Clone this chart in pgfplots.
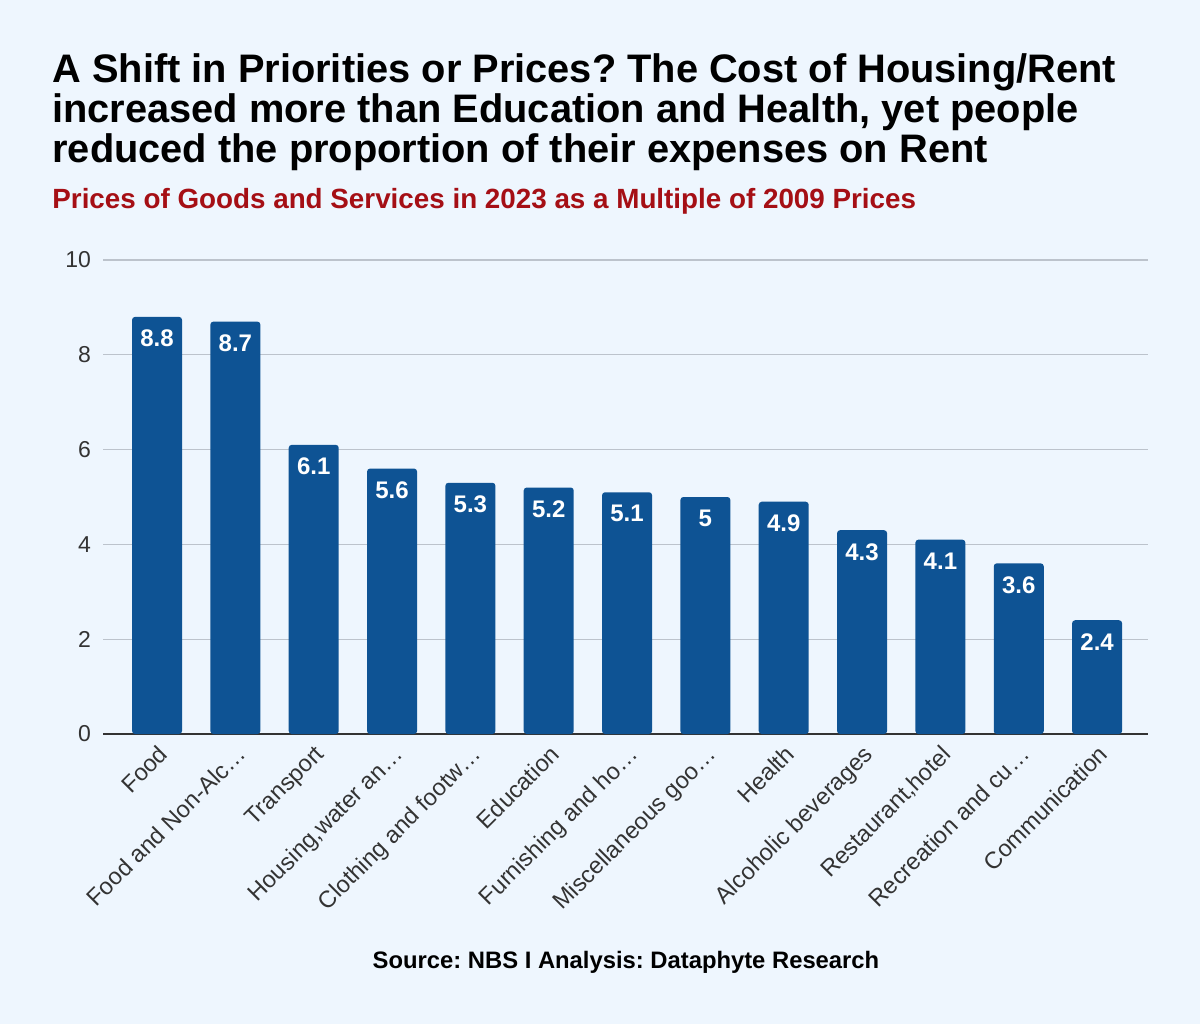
\documentclass[border=0pt]{standalone}
\usepackage{fontspec}
\setmainfont{Liberation Sans}
\frenchspacing
\usepackage{pgfplots}
\pgfplotsset{compat=1.18}
\definecolor{bgcol}{HTML}{EEF6FE}
\definecolor{barcol}{HTML}{0E5394}
\definecolor{gridcol}{HTML}{BCC3CC}
\definecolor{axcol}{HTML}{333333}
\definecolor{subred}{HTML}{A50F15}
\begin{document}
\begin{tikzpicture}
% page is 1200x1024 px at 0.5pt per px
\fill[bgcol] (0,0) rectangle (600pt,512pt);
\node[anchor=base west, inner sep=0, font=\fontsize{19.9pt}{20pt}\selectfont\bfseries] at (26pt,470.5pt) {A Shift in Priorities or Prices? The Cost of Housing/Rent};
\node[anchor=base west, inner sep=0, font=\fontsize{19.9pt}{20pt}\selectfont\bfseries] at (26pt,450.5pt) {increased more than Education and Health, yet people};
\node[anchor=base west, inner sep=0, font=\fontsize{19.9pt}{20pt}\selectfont\bfseries] at (26pt,430.5pt) {reduced the proportion of their expenses on Rent};
\node[anchor=base west, inner sep=0, text=subred, font=\fontsize{13.9pt}{14pt}\selectfont\bfseries] at (26pt,407.5pt) {Prices of Goods and Services in 2023 as a Multiple of 2009 Prices};
\node[anchor=base, inner sep=0, font=\fontsize{11.9pt}{13pt}\selectfont\bfseries] at (313pt,28pt) {Source: NBS I Analysis: Dataphyte Research};
\begin{axis}[
    at={(51.5pt,145pt)}, anchor=south west,
    scale only axis,
    width=522.5pt, height=237pt,
    xmin=-0.69, xmax=12.65,
    ymin=0, ymax=10,
    ytick={0,2,4,6,8,10},
    xtick={0,...,12},
    xticklabels={Food, Food and Non-Alc…, Transport, {Housing,water an…}, Clothing and footw…, Education, Furnishing and ho…, Miscellaneous goo…, Health, Alcoholic beverages, {Restaurant,hotel}, Recreation and cu…, Communication},
    xticklabel style={rotate=45, anchor=north east, font=\fontsize{11.8pt}{13pt}\selectfont, text=axcol},
    yticklabel style={font=\fontsize{11.5pt}{13pt}\selectfont, text=axcol, xshift=-2.5pt},
    /pgf/number format/assume math mode=true,
    major tick length=0pt,
    ymajorgrids,
    grid style={draw=gridcol, line width=0.6pt},
    axis x line*=bottom, axis y line*=left,
    y axis line style={draw=none},
    x axis line style={draw=axcol, line width=1pt, -},
    ]
\addplot[ybar, fill=barcol, draw=none, bar width=25pt, rounded corners=1.5pt,
    nodes near coords,
    nodes near coords style={anchor=north, text=white, yshift=-3pt, font=\fontsize{12pt}{13pt}\selectfont\bfseries, /pgf/number format/assume math mode=true}]
coordinates {
(0,8.8) (1,8.7) (2,6.1) (3,5.6) (4,5.3) (5,5.2) (6,5.1) (7,5) (8,4.9) (9,4.3) (10,4.1) (11,3.6) (12,2.4)
};
\end{axis}
\end{tikzpicture}
\end{document}
